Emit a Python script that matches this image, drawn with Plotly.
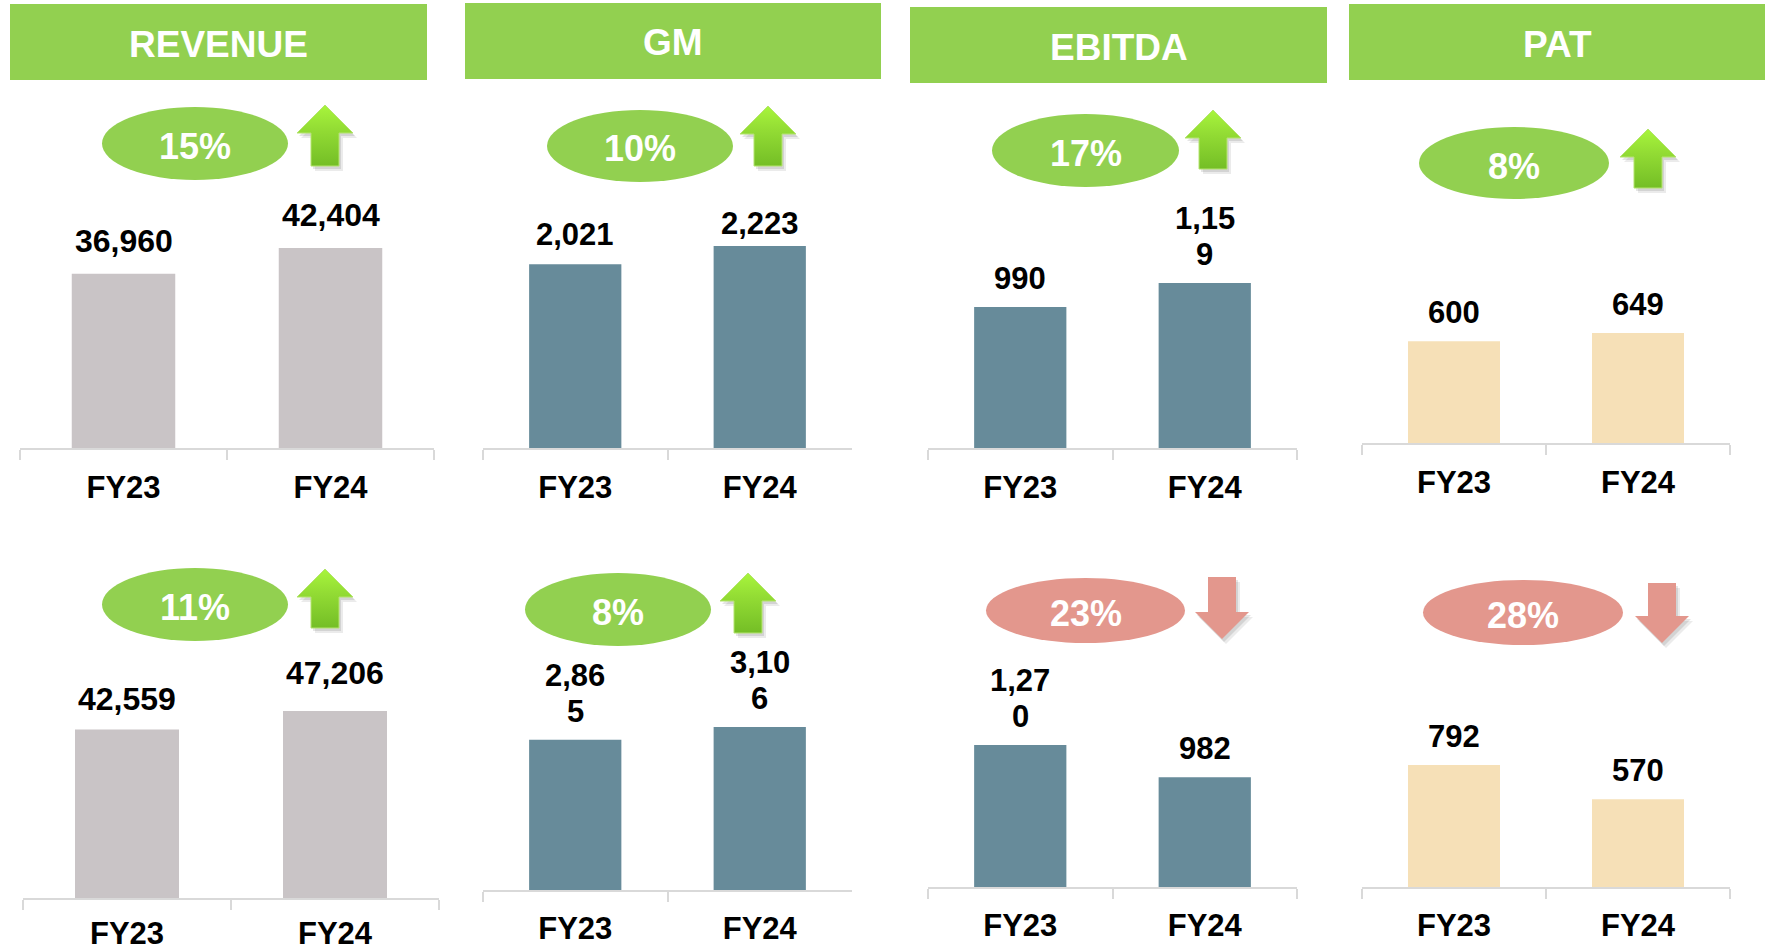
import plotly.graph_objects as go

W, H = 1776, 950
FONT = "Liberation Sans, Arial, sans-serif"

# ---------------- data ----------------
categories = ["FY23", "FY24"]
headers = ["REVENUE", "GM", "EBITDA", "PAT"]

revenue_top = [36960, 42404]
gm_top = [2021, 2223]
ebitda_top = [990, 1159]
pat_top = [600, 649]

revenue_bot = [42559, 47206]
gm_bot = [2865, 3106]
ebitda_bot = [1270, 982]
pat_bot = [792, 570]

growth_top = ["15%", "10%", "17%", "8%"]
growth_bot = ["11%", "8%", "23%", "28%"]
direction_top = ["up", "up", "up", "up"]
direction_bot = ["up", "up", "down", "down"]

# ---------------- styles / layout (pixel geometry) ----------------
GREEN = "#92D050"
RED = "#E3978D"
BAR_COLORS = ["#C9C4C6", "#678B9A", "#678B9A", "#F6E0B7"]

series = [revenue_top, gm_top, ebitda_top, pat_top,
          revenue_bot, gm_bot, ebitda_bot, pat_bot]
growth = growth_top + growth_bot
direction = direction_top + direction_bot

# ys = label offsets (px) above each bar, so = tick label standoff
geom = [
    dict(ax=(20, 434), ay=448, ymax=53000, ell=(102, 288, 107, 180), arr=(325, 105, 166), wrap=False, fs=32, ys=(13, 13), so=11),
    dict(ax=(483, 852), ay=448, ymax=2750, ell=(547, 733, 110, 182), arr=(768, 106, 166), wrap=False, fs=31, ys=(10, 3), so=11),
    dict(ax=(928, 1297), ay=448, ymax=1756, ell=(992, 1179, 114, 187), arr=(1213, 110, 169), wrap=True, fs=31, ys=(9, 9), so=11),
    dict(ax=(1362, 1730), ay=443, ymax=1475, ell=(1419, 1609, 127, 199), arr=(1648, 129, 188), wrap=False, fs=31, ys=(9, 9), so=11),
    dict(ax=(23, 439), ay=898, ymax=63100, ell=(102, 288, 568, 641), arr=(325, 569, 628), wrap=False, fs=32, ys=(10, 18), so=7),
    dict(ax=(483, 852), ay=890, ymax=4764, ell=(525, 711, 573, 646), arr=(748, 573, 633), wrap=True, fs=31, ys=(9, 9), so=10),
    dict(ax=(928, 1297), ay=887, ymax=2236, ell=(986, 1185, 578, 643), arr=(1222, 577, 639), wrap=True, fs=31, ys=(9, 9), so=10),
    dict(ax=(1362, 1730), ay=887, ymax=1623, ell=(1423, 1623, 580, 645), arr=(1662, 583, 643), wrap=False, fs=31, ys=(9, 9), so=10),
]
header_boxes = [(10, 427, 4, 80), (465, 881, 3, 79), (910, 1327, 7, 83), (1349, 1765, 4, 80)]
PLOT_H = 250      # px height of each bar plot area
LINE_STEP = 36    # px between wrapped label lines


def px(x):
    return x / W


def py(y):
    return 1 - y / H


def label_lines(v, wrap):
    s = f"{v:,}"
    if wrap and len(s) > 4:
        return [s[:4], s[4:]]
    return [s]


fig = go.Figure()
shapes, annotations = [], []

for i, (vals, g) in enumerate(zip(series, geom)):
    n = i + 1
    xa, ya = f"x{n}", f"y{n}"
    fig.add_trace(go.Bar(
        x=categories, y=vals, xaxis=xa, yaxis=ya, width=0.5,
        marker=dict(color=BAR_COLORS[i % 4], line=dict(width=0)),
        hoverinfo="skip", showlegend=False,
    ))
    fig.update_layout(**{
        f"xaxis{n}": dict(
            domain=[px(g["ax"][0]), px(g["ax"][1])], anchor=ya, type="category",
            showline=True, linecolor="#D9D9D9", linewidth=2,
            ticks="outside", tickson="boundaries", ticklen=10, tickwidth=2, tickcolor="#D9D9D9",
            tickfont=dict(family=FONT, size=31, color="black", weight="bold"),
            ticklabelstandoff=g["so"],
            showgrid=False, zeroline=False, fixedrange=True,
        ),
        f"yaxis{n}": dict(
            domain=[py(g["ay"]), py(g["ay"] - PLOT_H)], anchor=xa,
            range=[0, g["ymax"]], visible=False, fixedrange=True,
        ),
    })
    for c, v, off in zip(categories, vals, g["ys"]):
        lines = label_lines(v, g["wrap"])
        for k, line in enumerate(reversed(lines)):
            annotations.append(dict(
                x=c, y=v, xref=xa, yref=ya, text=line, showarrow=False,
                yanchor="bottom", yshift=off + k * LINE_STEP,
                font=dict(family=FONT, size=g["fs"], color="black", weight="bold"),
            ))
    # growth ellipse
    x0, x1, y0, y1 = g["ell"]
    col = GREEN if direction[i] == "up" else RED
    shapes.append(dict(type="circle", xref="paper", yref="paper",
                       x0=px(x0), x1=px(x1), y0=py(y1), y1=py(y0),
                       fillcolor=col, line=dict(width=0), layer="below"))
    annotations.append(dict(x=px((x0 + x1) / 2), y=py((y0 + y1) / 2), xref="paper", yref="paper",
                            text=growth[i], showarrow=False, xanchor="center", yanchor="middle",
                            yshift=-3,
                            font=dict(family=FONT, size=36, color="white", weight="bold")))
    # arrow
    cx, top, bot = g["arr"]
    if direction[i] == "up":
        pts = [(cx, top), (cx + 28, top + 28), (cx + 14, top + 28), (cx + 14, bot),
               (cx - 14, bot), (cx - 14, top + 28), (cx - 28, top + 28), (cx, top)]
    else:
        pts = [(cx - 14, top), (cx + 14, top), (cx + 14, bot - 27), (cx + 27, bot - 27),
               (cx, bot), (cx - 27, bot - 27), (cx - 14, bot - 27), (cx - 14, top)]
    for dx, dy, a in [(4, 5, 0.08), (2, 3, 0.10)]:
        fig.add_trace(go.Scatter(
            x=[p[0] + dx for p in pts], y=[H - (p[1] + dy) for p in pts],
            xaxis="x9", yaxis="y9", mode="lines", line=dict(width=0),
            fill="toself", fillcolor=f"rgba(0,0,0,{a})", hoverinfo="skip", showlegend=False))
    if direction[i] == "up":
        fig.add_trace(go.Scatter(
            x=[p[0] for p in pts], y=[H - p[1] for p in pts],
            xaxis="x9", yaxis="y9", mode="lines", line=dict(width=1, color="#B4E46E"),
            fill="toself",
            fillgradient=dict(type="vertical", start=H - bot, stop=H - top,
                              colorscale=[[0, "#74BE26"], [0.6, "#93DC34"], [1, "#A8F53C"]]),
            hoverinfo="skip", showlegend=False))
    else:
        fig.add_trace(go.Scatter(
            x=[p[0] for p in pts], y=[H - p[1] for p in pts],
            xaxis="x9", yaxis="y9", mode="lines", line=dict(width=0),
            fill="toself", fillcolor=RED, hoverinfo="skip", showlegend=False))

# headers
for name, (x0, x1, y0, y1) in zip(headers, header_boxes):
    shapes.append(dict(type="rect", xref="paper", yref="paper",
                       x0=px(x0), x1=px(x1), y0=py(y1), y1=py(y0),
                       fillcolor=GREEN, line=dict(width=0), layer="below"))
    annotations.append(dict(x=px((x0 + x1) / 2), y=py((y0 + y1) / 2), xref="paper", yref="paper",
                            text=name, showarrow=False, xanchor="center", yanchor="middle",
                            yshift=-2,
                            font=dict(family=FONT, size=37, color="white", weight="bold")))

fig.update_layout(
    width=W, height=H, margin=dict(l=0, r=0, t=0, b=0),
    paper_bgcolor="white", plot_bgcolor="rgba(0,0,0,0)",
    xaxis9=dict(domain=[0, 1], range=[0, W], visible=False, fixedrange=True, anchor="y9"),
    yaxis9=dict(domain=[0, 1], range=[0, H], visible=False, fixedrange=True, anchor="x9"),
    shapes=shapes, annotations=annotations, showlegend=False,
)

fig.write_html("out.html", config={"displayModeBar": False},
               post_script=("document.documentElement.style.overflow='hidden';"
                            "document.body.style.margin='0';document.body.style.overflow='hidden';"))
